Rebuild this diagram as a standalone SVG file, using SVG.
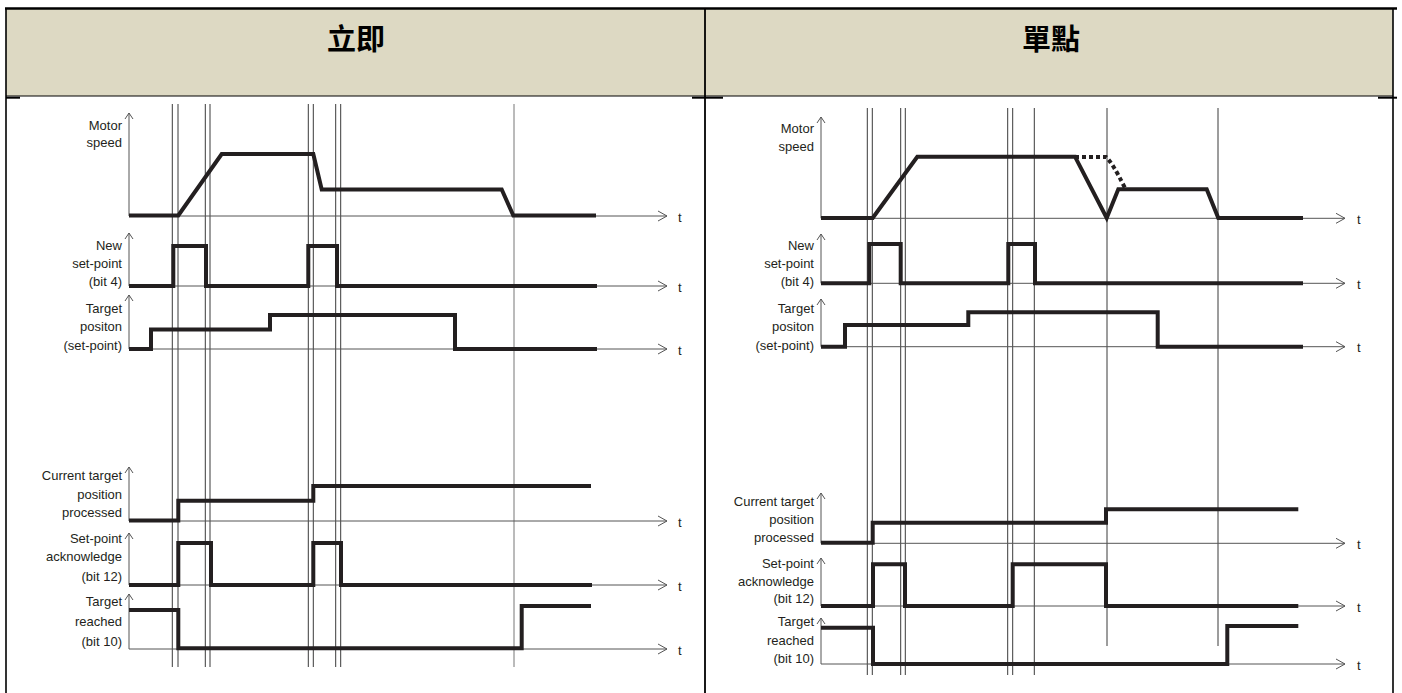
<svg xmlns="http://www.w3.org/2000/svg" width="1402" height="693" viewBox="0 0 1402 693">
<style>
.lbl{font-family:"Liberation Sans",Arial,sans-serif;font-size:13px;fill:#231f20;text-anchor:end}
.tl{font-family:"Liberation Sans",Arial,sans-serif;font-size:13px;fill:#231f20}
.ttl{font-family:"Noto Sans CJK TC","Noto Sans CJK SC",sans-serif;font-size:29px;font-weight:bold;fill:#000;text-anchor:middle}
.wave{fill:none;stroke:#231f20;stroke-width:4;stroke-linejoin:miter;stroke-linecap:butt}
.dash{fill:none;stroke:#231f20;stroke-width:4;stroke-dasharray:4 3}
.tax{fill:none;stroke:#555;stroke-width:1;marker-end:url(#ah)}
.vax{fill:none;stroke:#555;stroke-width:1;marker-end:url(#av)}
.mk{fill:none;stroke:#3a3a3a;stroke-width:1}
.mk2{fill:none;stroke:#777;stroke-width:1}
.bd{stroke:#000;fill:none}
</style>
<defs>
<marker id="ah" markerUnits="userSpaceOnUse" viewBox="-11 -7 12 14" refX="0" refY="0" markerWidth="12" markerHeight="14" orient="auto">
<path d="M-9,-5 L0,0 L-9,5" fill="none" stroke="#555" stroke-width="1"/>
</marker>
<marker id="av" markerUnits="userSpaceOnUse" viewBox="-8 -5 9 10" refX="0" refY="0" markerWidth="9" markerHeight="10" orient="auto">
<path d="M-6,-4 L0,0 L-6,4" fill="none" stroke="#555" stroke-width="1"/>
</marker>
</defs>
<rect width="1402" height="693" fill="#fff"/>
<g id="table">
<rect x="6" y="9" width="1387" height="87" fill="#DDD9C3"/>
<line class="bd" x1="5" y1="8.5" x2="1397" y2="8.5" stroke-width="2.4"/>
<line class="bd" x1="6" y1="8" x2="6" y2="693" stroke-width="1.6"/>
<line class="bd" x1="705" y1="8" x2="705" y2="693" stroke-width="1.8"/>
<line class="bd" x1="1393" y1="8" x2="1393" y2="693" stroke-width="1.6"/>
<line class="bd" x1="6" y1="96" x2="1393" y2="96" stroke-width="1"/>
<line class="bd" x1="6" y1="97.7" x2="20" y2="97.7" stroke-width="2"/>
<line class="bd" x1="692" y1="97.7" x2="723" y2="97.7" stroke-width="2"/>
<line class="bd" x1="1378" y1="97.7" x2="1397" y2="97.7" stroke-width="2"/>
<text class="ttl" x="356" y="50">立即</text>
<text class="ttl" x="1051" y="50">單點</text>
</g>
<g id="left-panel">
<g id="left-markers">
<path class="mk" d="M172.3,104V667M178,104V667M205.3,104V667M210,104V667M308.3,104V667M313.3,104V667M335.7,104V667M340.7,104V667"/>
<path class="mk2" d="M514,104V667"/>
</g>
<g id="left-motor-speed">
<text class="lbl" x="122" y="130">Motor</text>
<text class="lbl" x="122" y="147">speed</text>
<path class="vax" d="M129,216V113"/>
<path class="tax" d="M129,216H667"/>
<text class="tl" x="678" y="221.5">t</text>
<path class="wave" d="M129,215.5H178.3L221.7,154H313.3L321.7,189.5H501.7L513.3,215.5H596"/>
</g>
<g id="left-new-set-point">
<text class="lbl" x="122" y="250">New</text>
<text class="lbl" x="122" y="268">set-point</text>
<text class="lbl" x="122" y="286">(bit 4)</text>
<path class="vax" d="M129,286V233"/>
<path class="tax" d="M129,286H667"/>
<text class="tl" x="678" y="291.5">t</text>
<path class="wave" d="M129,286H173.3V246H206V286H308.3V246H337V286H597"/>
</g>
<g id="left-target-position">
<text class="lbl" x="122" y="313">Target</text>
<text class="lbl" x="122" y="331">positon</text>
<text class="lbl" x="122" y="349.5">(set-point)</text>
<path class="vax" d="M129,349V295"/>
<path class="tax" d="M129,349H667"/>
<text class="tl" x="678" y="354.5">t</text>
<path class="wave" d="M129,349H151V329.5H270V315H455V349H597"/>
</g>
<g id="left-current-target">
<text class="lbl" x="122" y="480">Current target</text>
<text class="lbl" x="122" y="499">position</text>
<text class="lbl" x="122" y="517">processed</text>
<path class="vax" d="M129,521V467"/>
<path class="tax" d="M129,521H667"/>
<text class="tl" x="678" y="526.5">t</text>
<path class="wave" d="M129,520.5H178.3V500.7H313.3V486H591"/>
</g>
<g id="left-set-point-ack">
<text class="lbl" x="122" y="543">Set-point</text>
<text class="lbl" x="122" y="561">acknowledge</text>
<text class="lbl" x="122" y="581">(bit 12)</text>
<path class="vax" d="M129,585V533"/>
<path class="tax" d="M129,585H667"/>
<text class="tl" x="678" y="590.5">t</text>
<path class="wave" d="M129,585H178.3V543H211V585H313.3V543H341V585H592"/>
</g>
<g id="left-target-reached">
<text class="lbl" x="122" y="606">Target</text>
<text class="lbl" x="122" y="626">reached</text>
<text class="lbl" x="122" y="646">(bit 10)</text>
<path class="vax" d="M129,649V594"/>
<path class="tax" d="M129,649H667"/>
<text class="tl" x="678" y="654.5">t</text>
<path class="wave" d="M129,610H178.3V648.3H521.7V606H591"/>
</g>
</g>
<g id="right-panel">
<g id="right-markers">
<path class="mk" d="M867.3,108V675M872.3,108V675M900.7,108V675M905.3,108V675M1007.7,108V675M1012.7,108V675M1034.3,108V675"/>
<path class="mk" d="M1107,108V646M1218,108V646"/>
</g>
<g id="right-motor-speed">
<text class="lbl" x="814" y="133">Motor</text>
<text class="lbl" x="814" y="151">speed</text>
<path class="vax" d="M821,218.3V117"/>
<path class="tax" d="M821,218.3H1345"/>
<text class="tl" x="1357" y="223.8">t</text>
<path class="dash" d="M1075,157H1106Q1112,162 1125,188"/>
<path class="wave" d="M821,218H872.7L917.3,156.7H1075L1106.7,218L1118.3,189.3H1206.7L1218.3,218H1303"/>
</g>
<g id="right-new-set-point">
<text class="lbl" x="814" y="250">New</text>
<text class="lbl" x="814" y="268">set-point</text>
<text class="lbl" x="814" y="286">(bit 4)</text>
<path class="vax" d="M821,283.3V234"/>
<path class="tax" d="M821,283.3H1345"/>
<text class="tl" x="1357" y="288.8">t</text>
<path class="wave" d="M821,283.3H869.3V244H900.7V283.3H1008.3V244H1035V283.3H1303"/>
</g>
<g id="right-target-position">
<text class="lbl" x="814" y="313">Target</text>
<text class="lbl" x="814" y="331">positon</text>
<text class="lbl" x="814" y="349.5">(set-point)</text>
<path class="vax" d="M821,346.7V299"/>
<path class="tax" d="M821,346.7H1345"/>
<text class="tl" x="1357" y="352.2">t</text>
<path class="wave" d="M821,346.7H845V325H968.3V312.3H1157.7V346.7H1303"/>
</g>
<g id="right-current-target">
<text class="lbl" x="814" y="506">Current target</text>
<text class="lbl" x="814" y="524">position</text>
<text class="lbl" x="814" y="542">processed</text>
<path class="vax" d="M821,543.3V493"/>
<path class="tax" d="M821,543.3H1345"/>
<text class="tl" x="1357" y="548.8">t</text>
<path class="wave" d="M821,542.7H872.7V522.7H1106V509.3H1298.3"/>
</g>
<g id="right-set-point-ack">
<text class="lbl" x="814" y="568">Set-point</text>
<text class="lbl" x="814" y="586">acknowledge</text>
<text class="lbl" x="814" y="603">(bit 12)</text>
<path class="vax" d="M821,606V558"/>
<path class="tax" d="M821,606H1345"/>
<text class="tl" x="1357" y="611.5">t</text>
<path class="wave" d="M821,606H873V564.3H905V606H1012.7V564.3H1106V606H1298.3"/>
</g>
<g id="right-target-reached">
<text class="lbl" x="814" y="626">Target</text>
<text class="lbl" x="814" y="644.5">reached</text>
<text class="lbl" x="814" y="663">(bit 10)</text>
<path class="vax" d="M821,664V618"/>
<path class="tax" d="M821,664H1345"/>
<text class="tl" x="1357" y="669.5">t</text>
<path class="wave" d="M821,627.7H873V664H1227.3V626H1298.3"/>
</g>
</g>
</svg>
